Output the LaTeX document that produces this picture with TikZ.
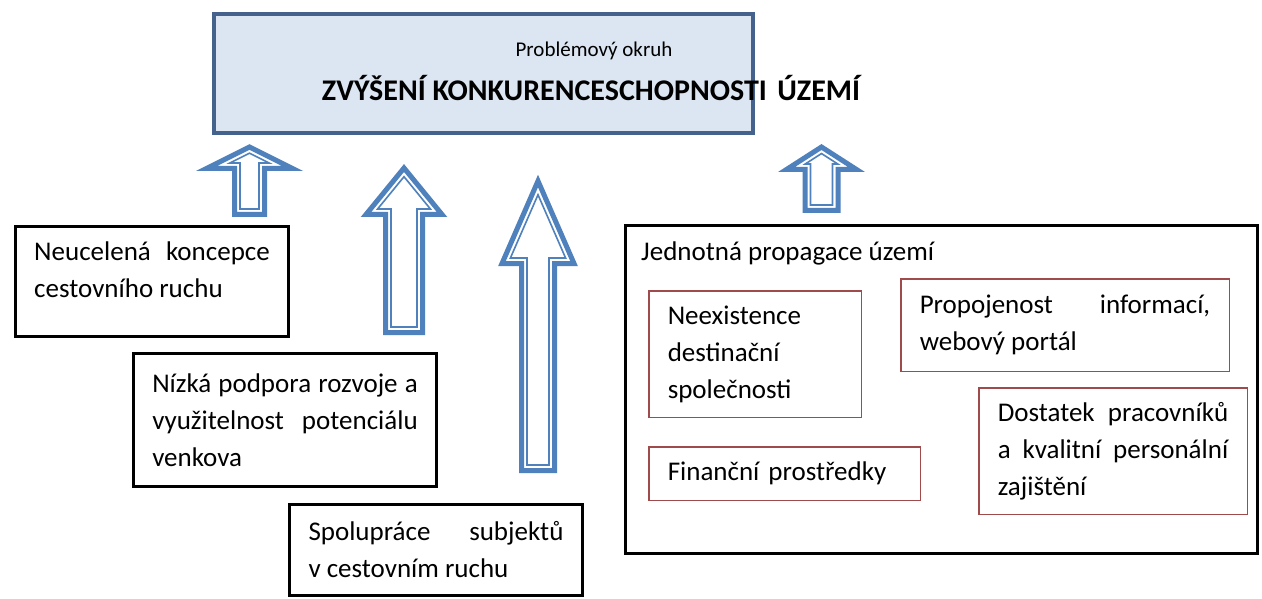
\documentclass[tikz,border=0pt]{standalone}
\usepackage{fontspec}
\setmainfont{Carlito}
\usepackage{xcolor}
\usetikzlibrary{positioning}

\definecolor{arrowblue}{RGB}{79,129,189}
\definecolor{headfill}{RGB}{220,230,242}
\definecolor{headline}{RGB}{68,98,140}
\definecolor{boxred}{RGB}{160,75,75}

% up block arrow: centre x, tip y, head base y, bottom y, shaft half, head half
\newcommand{\uparr}[6]{%
  \pgfmathsetmacro{\arrd}{5.5}
  \pgfmathsetmacro{\arrh}{#3-#2}
  \pgfmathsetmacro{\arrth}{atan(#6/\arrh)}
  \pgfmathsetmacro{\arrtip}{#2+\arrd/sin(\arrth)}
  \pgfmathsetmacro{\arrhw}{#6*(\arrh-\arrd)/\arrh-\arrd/cos(\arrth)}
  \pgfmathsetmacro{\arrsw}{#5-\arrd}
  \draw[arrowout] (#1,#2) -- ({#1+#6},#3) -- ({#1+#5},#3) -- ({#1+#5},#4)
    -- ({#1-#5},#4) -- ({#1-#5},#3) -- ({#1-#6},#3) -- cycle;
  \draw[arrowin] (#1,\arrtip) -- ({#1+\arrhw},{#3-\arrd}) -- ({#1+\arrsw},{#3-\arrd})
    -- ({#1+\arrsw},{#4-\arrd}) -- ({#1-\arrsw},{#4-\arrd}) -- ({#1-\arrsw},{#3-\arrd})
    -- ({#1-\arrhw},{#3-\arrd}) -- cycle;
}

\begin{document}
\begin{tikzpicture}[x=1pt, y=-1pt,
        txt/.style={font=\fontsize{27}{37}\selectfont},
        box/.style={rectangle, draw=black, line width=3pt, inner xsep=19pt,
                    inner ysep=0pt, align=justify, txt},
        redbox/.style={rectangle, draw=boxred, line width=1.5pt, inner xsep=19pt,
                    inner ysep=0pt, align=#1, txt},
        redbox/.default=justify,
        arrowout/.style={draw=arrowblue, line width=5pt, fill=white, line join=miter},
        arrowin/.style={draw=arrowblue, line width=1.6pt, line join=miter}
    ]
        \useasboundingbox (0,0) rectangle (1262,599);
        \fill[white] (0,0) rectangle (1262,599);

        % Problem area
        \node[rectangle, draw=headline, fill=headfill, line width=4.5pt,
              minimum width=539pt, minimum height=119pt, inner sep=0pt] (okruh) at (483.5,73.5) {};
        \node[font=\fontsize{21}{25}\selectfont] (okruhlbl) at (594,51) {Problémový okruh};
        \node[font=\bfseries\fontsize{30}{34}\selectfont] (okruhttl) at (591,88)
            {ZVÝŠENÍ KONKURENCESCHOPNOSTI\hspace{0.35em}ÚZEMÍ};

        % Arrows
        \uparr{249.5}{147}{168.5}{214.5}{15}{43}
        \uparr{404}{168}{214.5}{332.5}{18.5}{38}
        \uparr{538}{181}{263.5}{470.5}{16.5}{36}
        \uparr{821.5}{147}{169.5}{210.5}{16.5}{35}

        % Left boxes
        \node[box, text width=235.5pt, minimum height=110.5pt] (koncepce) at (152,281.5)
            {Neucelená koncepce\linebreak cestovního ruchu\par\kern24pt\nointerlineskip\null};
        \node[box, text width=265.5pt, minimum height=133.5pt] (venkov) at (285,420)
            {Nízká podpora rozvoje a\linebreak využitelnost potenciálu\linebreak venkova};
        \node[box, text width=255pt, minimum height=91pt] (spoluprace) at (436,550)
            {Spolupráce subjektů\linebreak v cestovním ruchu};

        % Promotion box
        \node[box, minimum width=632.5pt, minimum height=328.5pt, inner sep=0pt] (propagace) at (941.5,389.5) {};
        \node[txt, anchor=west, inner sep=0pt] (propagacelbl) at (641,253) {Jednotná propagace území};
        \node[redbox=left, text width=174.5pt, minimum height=126.5pt] (destinace) at (755,354)
            {Neexistence\\destinační\\společnosti};
        \node[redbox, text width=290.5pt, minimum height=92.5pt] (portal) at (1065,325)
            {Propojenost informací,\linebreak webový portál};
        \node[redbox, text width=230.5pt, minimum height=126.5pt] (personal) at (1113,451)
            {Dostatek pracovníků\linebreak a kvalitní personální\linebreak zajištění};
        \node[redbox=left, text width=233.5pt, minimum height=53.5pt] (finance) at (784.5,473.5)
            {Finanční prostředky};
    \end{tikzpicture}
\end{document}
